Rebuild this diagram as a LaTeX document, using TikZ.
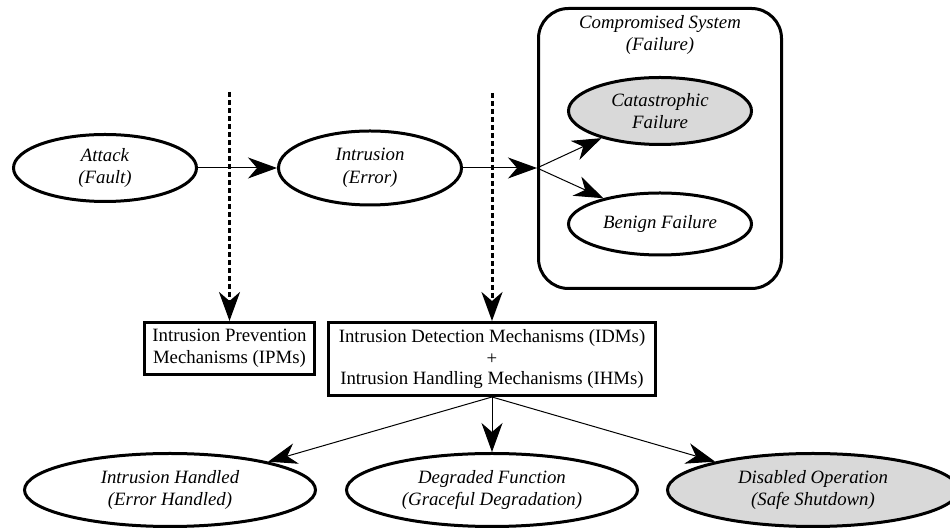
\documentclass[tikz,border=0pt]{standalone}
\usepackage{fontspec}
\setmainfont{Liberation Serif}
\usetikzlibrary{positioning,arrows.meta,shapes.geometric}
\tikzstyle{state} = [draw, ellipse, line width=3pt, inner sep=0pt, align=center, font=\itshape, minimum width=183pt, minimum height=67pt]
\tikzstyle{outcome} = [state, minimum width=291pt, minimum height=73pt]
\tikzstyle{failed} = [fill=black!15]
\tikzstyle{mech} = [draw, rectangle, line width=3pt, align=center, inner sep=0pt]
\tikzstyle{group} = [draw, rectangle, rounded corners=30pt, line width=3pt, minimum width=243pt, minimum height=280pt]
\tikzstyle{link} = [-{Stealth[length=29pt,width=21pt,inset=9pt]}, line width=1pt]
\tikzstyle{guard} = [link, line width=3pt, dash pattern=on 5pt off 3pt]
\begin{document}
\fontsize{18.8}{22.5}\selectfont
\begin{tikzpicture}[x=1pt, y=1pt, auto, node distance=265pt]
        \clip (0,0) rectangle (950,529);

        \node [group] (sys) at (660,380.5) {};
        \node [font=\itshape, align=center] (systitle) at (660,494) {Compromised System\\(Failure)};
        \node [state, failed] (cat) at (660,418) {Catastrophic\\Failure};
        \node [state, minimum height=62pt] (benign) at (660,305) {Benign Failure};

        \node [state] (attack) at (105,361) {Attack\\(Fault)};
        \node [state, right of=attack, minimum height=74pt] (intrusion) {Intrusion\\(Error)};
        \coordinate (split) at (537,361);

        \node [mech, minimum width=170pt, minimum height=52pt] (ipm) at (229.5,180.5) {Intrusion Prevention\\Mechanisms (IPMs)};
        \node [mech, minimum width=327pt, minimum height=73pt] (idm) at (492,170) {Intrusion Detection Mechanisms (IDMs)\\+\\[-3pt]Intrusion Handling Mechanisms (IHMs)};
        \coordinate (gate1) at (229.5,437);
        \coordinate (gate2) at (492,436);

        \node [outcome, below of=idm, node distance=131pt] (degraded) {Degraded Function\\(Graceful Degradation)};
        \node [outcome, left of=degraded, node distance=322pt] (handled) {Intrusion Handled\\(Error Handled)};
        \node [outcome, failed, right of=degraded, node distance=321pt] (disabled) {Disabled Operation\\(Safe Shutdown)};

        % attack path
        \draw [link] (attack) -- (intrusion);
        \draw [link] (intrusion) -- (split);
        \draw [link] (split) -- (cat);
        \draw [link] (split) -- (benign);

        % mechanisms
        \draw [guard] (gate1) -- (ipm);
        \draw [guard] (gate2) -- (idm);

        \draw [link] (idm.south) -- (handled);
        \draw [link] (idm.south) -- (degraded);
        \draw [link] (idm.south) -- (disabled);
    \end{tikzpicture}
\end{document}
